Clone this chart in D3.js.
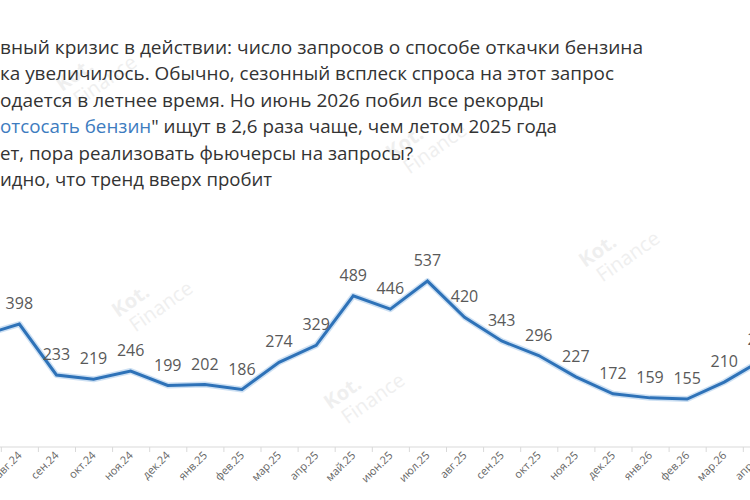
<!DOCTYPE html>
<html>
<head>
<meta charset="utf-8">
<script src="https://cdn.jsdelivr.net/npm/d3@7"></script>
<style>
  body { margin: 0; background: #fff; }
  svg { display: block; overflow: hidden; }
</style>
</head>
<body>
<div id="chart"></div>
<script>
// данные
const months = ["июл.24", "авг.24", "сен.24", "окт.24", "ноя.24", "дек.24", "янв.25", "фев.25",
                "мар.25", "апр.25", "май.25", "июн.25", "июл.25", "авг.25", "сен.25", "окт.25",
                "ноя.25", "дек.25", "янв.26", "фев.26", "мар.26", "апр.26"];
const values = [361, 398, 233, 219, 246, 199, 202, 186, 274, 329, 489, 446, 537, 420, 343, 296,
                227, 172, 159, 155, 210, 280];

const titleLines = [
  [{t: "вный кризис в действии: число запросов о способе откачки бензина"}],
  [{t: "ка увеличилось. Обычно, сезонный всплеск спроса на этот запрос"}],
  [{t: "одается в летнее время. Но июнь 2026 побил все рекорды"}],
  [{t: "отсосать бензин", link: true}, {t: "\" ищут в 2,6 раза чаще, чем летом 2025 года"}],
  [{t: "ет, пора реализовать фьючерсы на запросы?"}],
  [{t: "идно, что тренд вверх пробит"}]
];

const W = 750, H = 500;
const svg = d3.select("#chart")
              .append("svg")
              .attr("width", W)
              .attr("height", H);

// водяные знаки
const marks = [[118, 318], [330, 410], [585, 268], [392, 160], [62, 92]];
const wm = svg.append("g").attr("fill", "#efefef").attr("font-family", "'Open Sans', sans-serif");
marks.forEach(([mx, my]) => {
  const g = wm.append("g").attr("transform", `translate(${mx},${my}) rotate(-35)`);
  g.append("text").attr("font-size", 20).attr("font-weight", 700).text("Kot.");
  g.append("text").attr("x", 6).attr("y", 22).attr("font-size", 20).text("Finance");
});

// заголовок
const title = svg.append("text")
                 .attr("font-family", "'Open Sans', sans-serif")
                 .attr("font-size", 17.5)
                 .attr("fill", "#333");
titleLines.forEach((line, i) => {
  const row = title.append("tspan").attr("x", 0).attr("y", 54 + i * 26.4);
  line.forEach(part => {
    row.append("tspan")
       .attr("fill", part.link ? "#3d7cc0" : null)
       .text(part.t);
  });
});
// ширины строк по картинке
const lineWidths = [643, 614, 544, 557, 413, 272];
title.selectAll(":scope > tspan").each(function(d, i) {
  d3.select(this).attr("textLength", lineWidths[i]).attr("lengthAdjust", "spacingAndGlyphs");
});

const x = d3.scaleBand()
            .domain(months)
            .range([-36.3, 779.9])
            .padding(0);

const y = d3.scaleLinear()
            .domain([0, 600])
            .range([447, 261.6]);

// ось X
const axis = svg.append("g")
                .attr("transform", `translate(0,${y(0)})`);
axis.append("line")
    .attr("x1", 0).attr("x2", W)
    .attr("stroke", "#d9d9d9");
axis.selectAll(".tick")
    .data(months)
    .enter()
    .append("line")
    .attr("x1", d => x(d) + 0.5)
    .attr("x2", d => x(d) + 0.5)
    .attr("y1", 0)
    .attr("y2", 5)
    .attr("stroke", "#d9d9d9");
axis.selectAll(".lbl")
    .data(months)
    .enter()
    .append("text")
    .attr("transform", d => `translate(${x(d) + x.bandwidth() / 2 + 3},${9}) rotate(-45)`)
    .attr("text-anchor", "end")
    .attr("font-family", "'Open Sans', sans-serif")
    .attr("font-size", 11)
    .attr("fill", "#666")
    .text(d => d);

// линия
const pts = months.map((m, i) => ({m, v: values[i]}));
const line = d3.line()
               .x(d => x(d.m) + x.bandwidth() / 2)
               .y(d => y(d.v));

svg.append("path")
   .datum(pts)
   .attr("d", line)
   .attr("fill", "none")
   .attr("stroke", "#9cc2e8")
   .attr("stroke-opacity", 0.5)
   .attr("stroke-width", 6)
   .attr("stroke-linejoin", "round");
svg.append("path")
   .datum(pts)
   .attr("d", line)
   .attr("fill", "none")
   .attr("stroke", "#2e72b8")
   .attr("stroke-width", 3)
   .attr("stroke-linejoin", "miter");

// подписи значений
svg.selectAll(".val")
   .data(pts)
   .enter()
   .append("text")
   .attr("x", d => x(d.m) + x.bandwidth() / 2)
   .attr("y", d => y(d.v) - 15)
   .attr("text-anchor", "middle")
   .attr("font-family", "'Open Sans', sans-serif")
   .attr("font-size", 16)
   .attr("fill", "#595959")
   .text(d => d.v);
</script>
</body>
</html>
